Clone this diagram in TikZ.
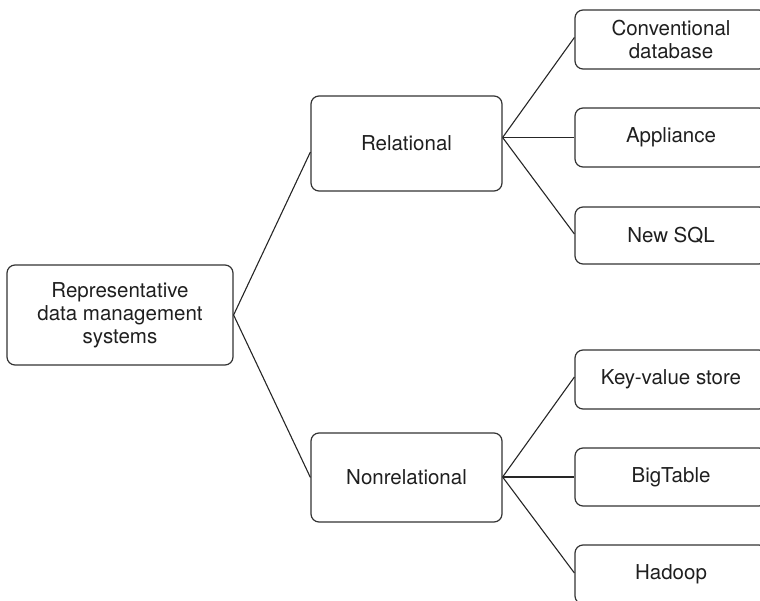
\documentclass[tikz,border=0pt]{standalone}
\usepackage{fontspec}
\setmainfont{TeX Gyre Heros}
\begin{document}
\begin{tikzpicture}[x=1pt,y=-1pt,
  box/.style={draw=black!80, line width=1.2pt, rounded corners=8pt,
    align=center, inner sep=0pt, text=black!88,
    font=\fontsize{20.5}{23}\selectfont},
  leaf/.style={box, minimum width=192pt, minimum height=59pt},
  mid/.style={box, minimum width=191pt},
  link/.style={draw=black!85, line width=1.1pt}]
\useasboundingbox (0,0) rectangle (760,601);
\clip (0,0) rectangle (760,601);

% root
\node[box, minimum width=226pt, minimum height=100pt] (root) at (120,315)
  {Representative\\data management\\systems};

% second level
\node[mid, minimum height=95pt] (rel) at (406.5,143.5) {Relational};
\node[mid, minimum height=89pt] (nonrel) at (406.5,477.5) {Nonrelational};

% leaves
\node[leaf] (conv) at (671,39.5) {Conventional\\database};
\node[leaf] (appl) at (671,137.5) {Appliance};
\node[leaf, minimum height=57pt] (nsql) at (671,235.5) {New SQL};
\node[leaf] (kv) at (671,379.5) {Key-value store};
\node[leaf, minimum height=58pt] (bigt) at (671,477) {BigTable};
\node[leaf] (hdp) at (671,574.5) {Hadoop};

% hubs where the branches fan out
\coordinate (relhub) at (rel.east |- appl.west);
\coordinate (nonhub) at (nonrel.east |- bigt.west);
\coordinate (relin) at ([yshift=-8.5pt]rel.west);

\draw[link] (root.east) -- (relin);
\draw[link] (root.east) -- (nonrel.west);
\draw[link] (relhub) -- ([yshift=2pt]conv.west);
\draw[link] (relhub) -- (appl.west);
\draw[link] (relhub) -- ([yshift=1.5pt]nsql.west);
\draw[link] (nonhub) -- ([yshift=2.5pt]kv.west);
\draw[link] (nonhub) -- (bigt.west);
\draw[link] (nonhub) -- ([yshift=1.5pt]hdp.west);
\end{tikzpicture}
\end{document}
